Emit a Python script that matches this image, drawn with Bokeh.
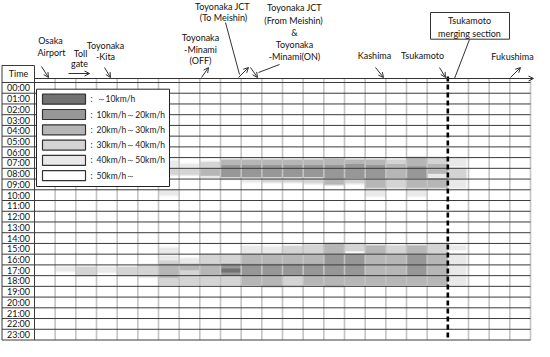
from bokeh.plotting import figure
from bokeh.models import Range1d, ColumnDataSource, Arrow, OpenHead
from bokeh.core.properties import value
from bokeh.embed import file_html
from bokeh.resources import INLINE

# ---------------- data ----------------
hours = list(range(25))
time_labels = ["%02d:00" % h for h in range(24)]
n_sections = 24
merge_section = 20
speed_labels = ["～10km/h", "10km/h～20km/h", "20km/h～30km/h",
                "30km/h～40km/h", "40km/h～50km/h", "50km/h～"]
speed_colors = ["#727272", "#979797", "#b6b6b6", "#d4d4d4", "#e9e9e9", "#ffffff"]

# (section from, section to, time start [h], time end [h], speed class 1..5)
morning = [
    (6.5, 7, 7.3, 8.0, 5), (6.5, 7, 8.0, 8.6, 4), (6, 7, 10.0, 10.5, 5),
    (7, 8, 7.6, 8.0, 5), (7, 8, 8.0, 8.6, 4),
    (8, 9, 7.4, 8.0, 4), (8, 9, 8.0, 8.7, 3), (8, 9, 8.7, 8.9, 5),
    (9, 10, 7.2, 7.7, 3), (9, 10, 7.7, 8.8, 2), (9, 10, 8.8, 9.0, 4),
    (10, 11, 7.2, 7.7, 3), (10, 11, 7.7, 8.8, 2), (10, 11, 8.9, 9.3, 5),
    (11, 12, 7.2, 7.7, 3), (11, 12, 7.7, 8.8, 2), (11, 12, 8.8, 9.3, 4),
    (12, 13, 7.2, 7.7, 3), (12, 13, 7.7, 8.8, 2), (12, 13, 8.8, 9.3, 4),
    (13, 14, 7.2, 7.7, 3), (13, 14, 7.7, 8.8, 2), (13, 14, 8.8, 9.4, 4),
    (14, 15, 7.1, 7.7, 3), (14, 15, 7.7, 8.9, 2), (14, 15, 8.9, 9.5, 3),
    (15, 16, 7.2, 7.6, 3), (15, 16, 7.6, 8.9, 2), (15, 16, 8.9, 9.4, 4),
    (16, 17, 7.2, 7.7, 3), (16, 17, 7.7, 8.9, 2), (16, 17, 8.9, 9.8, 3), (16, 17, 10.0, 10.6, 5),
    (17, 18, 7.2, 7.6, 4), (17, 18, 7.6, 8.9, 3), (17, 18, 8.9, 9.8, 4),
    (18, 19, 7.0, 7.8, 3), (18, 19, 7.8, 8.9, 2), (18, 19, 8.9, 9.8, 3), (18, 19, 10.0, 10.6, 5),
    (19, 20, 7.0, 7.6, 4), (19, 20, 7.6, 8.5, 3), (19, 20, 8.5, 8.9, 5), (19, 20, 8.9, 9.8, 3),
    (20, 20.9, 7.0, 7.8, 5), (20, 20.9, 8.0, 8.9, 4), (20, 20.9, 9.0, 9.8, 5),
]
evening = [
    (1, 2, 17.2, 17.6, 5), (2, 3, 17.2, 18.0, 4), (3, 4, 17.2, 17.7, 5),
    (4, 5, 17.2, 18.0, 4), (5, 6, 17.0, 18.1, 4),
    (6, 7, 15.4, 15.9, 5), (6, 7, 16.2, 16.5, 5), (6, 7, 16.6, 18.9, 4), (6, 7, 16.9, 18.2, 3),
    (7, 8, 16.4, 16.9, 5), (7, 8, 16.9, 17.5, 3), (7, 8, 17.5, 18.9, 4),
    (8, 9, 16.0, 16.9, 4), (8, 9, 16.9, 18.0, 3), (8, 9, 18.0, 18.9, 4),
    (9, 10, 16.0, 16.9, 4), (9, 10, 16.9, 18.0, 2), (9, 10, 17.33, 17.7, 1), (9, 10, 18.0, 18.9, 4),
    (10, 11, 15.25, 15.9, 5), (10, 11, 16.0, 16.9, 3), (10, 11, 16.9, 18.0, 2), (10, 11, 18.0, 18.9, 3),
    (11, 12, 15.3, 15.9, 5), (11, 12, 16.0, 16.9, 3), (11, 12, 16.9, 18.0, 2), (11, 12, 18.0, 19.0, 3),
    (12, 13, 15.25, 15.9, 4), (12, 13, 16.0, 16.9, 3), (12, 13, 16.9, 18.0, 2), (12, 13, 18.0, 19.0, 4),
    (13, 14, 15.1, 15.9, 4), (13, 14, 16.0, 16.9, 3), (13, 14, 16.9, 18.0, 2), (13, 14, 18.0, 18.9, 3),
    (14, 15, 15.0, 16.0, 3), (14, 15, 16.0, 18.0, 2), (14, 15, 18.0, 19.0, 3),
    (15, 16, 15.0, 15.7, 4), (15, 16, 16.0, 18.0, 2), (15, 16, 18.0, 18.9, 3),
    (16, 17, 15.2, 16.0, 3), (16, 17, 16.0, 18.9, 3),
    (17, 18, 15.2, 15.9, 4), (17, 18, 16.0, 18.9, 3),
    (18, 19, 15.2, 16.0, 3), (18, 19, 16.0, 18.0, 2), (18, 19, 18.0, 18.9, 3),
    (19, 20, 15.0, 16.0, 4), (19, 20, 16.0, 18.9, 3),
    (20, 20.9, 15.2, 15.6, 5), (20, 20.9, 16.0, 18.9, 5),
]

# annotation texts: (text, page x, page y)
place_texts = [
    ("Osaka", 58, 48), ("Airport", 59, 60),
    ("Toll", 88, 61), ("gate", 87, 71),
    ("Toyonaka", 113, 53), ("-Kita", 113, 64),
    ("Toyonaka", 208, 45), ("-Minami", 208, 57), ("(OFF)", 208, 68),
    ("Toyonaka JCT", 230, 14), ("(To Meishin)", 231, 25),
    ("Toyonaka JCT", 302, 15), ("(From Meishin)", 301, 28), ("&", 302, 40),
    ("Toyonaka", 302, 52), ("-Minami(ON)", 302, 64),
    ("Kashima", 382, 63), ("Tsukamoto", 430, 63), ("Fukushima", 520, 64),
    ("Tsukamoto", 477, 28), ("merging section", 477, 41),
]
# arrows with head: (x0, y0, x1, y1) page px
place_arrows = [
    (49, 74, 56, 85), (76, 81, 97, 81), (112, 75, 118, 85),
    (209, 85, 216, 75), (246, 85, 256, 75), (258, 75, 265, 85),
    (383, 75, 391, 85), (447, 75, 453, 85), (518, 85, 528, 75),
]
callouts = [(233, 30, 247, 82), (287, 72, 266, 80), (477, 47, 462, 86)]

# ---------------- layout helpers ----------------
GX, GY = 42.0, 90.0
GR = 538.0
W = (GR - GX) / n_sections
H = (347.5 - GY) / 24.0


def X(px):
    return (px - GX) / W


def Y(py):
    return (py - GY) / H


p = figure(width=534, height=341,
           x_range=Range1d(X(8), X(542)), y_range=Range1d(Y(349), Y(8)),
           output_backend="svg", toolbar_location=None, min_border=0,
           x_axis_location=None, y_axis_location=None)
p.grid.visible = False
p.outline_line_color = None
p.background_fill_color = "white"
p.border_fill_color = "white"

FONT = value("Lato")

# heatmap cells: soft halo pass (mimics the smooth edges), then the cells
segs = sorted(morning + evening, key=lambda s: -s[4])
halo = ColumnDataSource(dict(
    left=[s[0] for s in segs], right=[s[1] for s in segs],
    top=[s[2] - 0.12 for s in segs], bottom=[s[3] + 0.12 for s in segs],
    color=[speed_colors[s[4] - 1] for s in segs]))
p.quad(left="left", right="right", top="top", bottom="bottom",
       fill_color="color", fill_alpha=0.45, line_color=None, source=halo)
src = ColumnDataSource(dict(
    left=[s[0] for s in segs], right=[s[1] for s in segs],
    top=[s[2] for s in segs], bottom=[s[3] for s in segs],
    color=[speed_colors[s[4] - 1] for s in segs]))
p.quad(left="left", right="right", top="top", bottom="bottom",
       fill_color="color", line_color=None, source=src)

# vertical grid lines (light)
vx = [c for c in range(1, n_sections + 1) if c != merge_section]
p.segment(x0=vx, x1=vx, y0=[Y(86)] * len(vx), y1=[24] * len(vx),
          line_color="#c4c4c4", line_width=1.6)
# horizontal row lines (dark)
p.segment(x0=[X(9.5)] * len(hours), x1=[n_sections] * len(hours), y0=hours, y1=hours,
          line_color="#3a3a3a", line_width=1)
# time column borders
p.segment(x0=[X(9.5), 0, X(9.5)], x1=[X(9.5), 0, 0],
          y0=[Y(73), Y(73), Y(73)], y1=[24, 24, Y(73)],
          line_color="#3a3a3a", line_width=1)
# merge dashed line
p.segment(x0=[merge_section], x1=[merge_section], y0=[Y(84)], y1=[24],
          line_color="black", line_width=2.6, line_dash="5 3")

# time labels
p.text(x=[X(26)] * 24, y=[h + 0.5 for h in range(24)], text=time_labels,
       text_font=FONT, text_font_size=value("9px"), text_align="center",
       text_baseline="middle", text_color="#111")
p.text(x=[X(26)], y=[Y(81)], text=["Time"], text_font=FONT,
       text_font_size=value("9px"), text_align="center",
       text_baseline="middle", text_color="#111")

# legend
p.quad(left=[X(44)], right=[X(177)], top=[Y(96.7)], bottom=[Y(194)],
       fill_color="white", line_color="#222", line_width=1)
ly = [106.7 + 15.3 * i for i in range(6)]
p.quad(left=[X(50)] * 6, right=[X(93)] * 6,
       top=[Y(y - 5) for y in ly], bottom=[Y(y + 5) for y in ly],
       fill_color=speed_colors, line_color="#333", line_width=1.2)
p.text(x=[X(98)] * 6, y=[Y(y) for y in ly], text=[":"] * 6, text_font=FONT,
       text_font_size=value("8.5px"), text_align="left", text_baseline="middle",
       text_color="#222")
p.text(x=[X(104)] * 6, y=[Y(y) for y in ly], text=speed_labels, text_font=FONT,
       text_font_size=value("8.5px"), text_align="left", text_baseline="middle",
       text_color="#222")

# axis arrow
p.add_layout(Arrow(x_start=X(42), y_start=Y(86), x_end=X(541), y_end=Y(86),
                   line_color="#333", line_width=1,
                   end=OpenHead(size=5, line_color="#333", line_width=1)))
for (x0, y0, x1, y1) in place_arrows:
    p.add_layout(Arrow(x_start=X(x0), y_start=Y(y0), x_end=X(x1), y_end=Y(y1),
                       line_color="#333", line_width=1,
                       end=OpenHead(size=5, line_color="#333", line_width=1)))
p.segment(x0=[X(c[0]) for c in callouts], y0=[Y(c[1]) for c in callouts],
          x1=[X(c[2]) for c in callouts], y1=[Y(c[3]) for c in callouts],
          line_color="#333", line_width=1)

# merging section box
p.quad(left=[X(438)], right=[X(517)], top=[Y(20)], bottom=[Y(46.7)],
       fill_color="white", line_color="#333", line_width=1)

p.text(x=[X(t[1]) for t in place_texts], y=[Y(t[2]) for t in place_texts],
       text=[t[0] for t in place_texts], text_font=FONT,
       text_font_size=value("9px"), text_align="center", text_baseline="middle",
       text_color="#111")

open("out.html", "w").write(file_html(p, INLINE))
